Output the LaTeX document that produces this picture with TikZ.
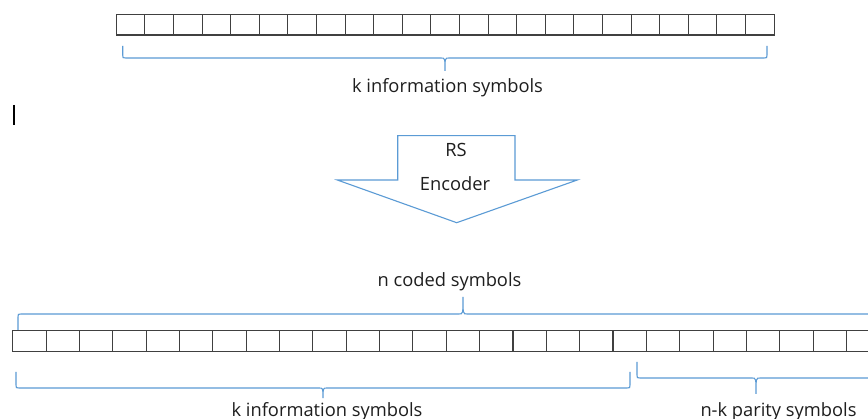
\documentclass[tikz,border=0pt]{standalone}
\usepackage{fontspec}
\setmainfont{Open Sans}
\usetikzlibrary{calc}

\definecolor{braceblue}{RGB}{91,155,213}
\definecolor{cellgray}{RGB}{64,64,64}
\definecolor{textgray}{RGB}{30,30,30}

% Curly brace: x-left, x-right, x-tip, y-ends, y-line, y-tip
\newcommand\wbrace[6]{%
  \draw[bracestyle] (#1,#4) -- ($(#1,#5)!3pt!(#1,#4)$) .. controls (#1,#5) .. ($(#1,#5)!3pt!(#3,#5)$)
    -- ($(#3,#5)!4pt!(#1,#5)$) .. controls (#3,#5) .. (#3,#6) .. controls (#3,#5) .. ($(#3,#5)!4pt!(#2,#5)$)
    -- ($(#2,#5)!3pt!(#3,#5)$) .. controls (#2,#5) .. ($(#2,#5)!3pt!(#2,#4)$) -- (#2,#4);}

\tikzset{
  cell/.style={draw=cellgray, line width=1.1pt},
  bracestyle/.style={draw=braceblue, line width=1.1pt},
  label/.style={font=\fontsize{18.3}{22}\selectfont, text=textgray, inner sep=0pt, anchor=base},
  arrowshape/.style={draw=braceblue, line width=1.1pt, fill=white}
}

\begin{document}
\begin{tikzpicture}[x=1pt, y=-1pt]
  \useasboundingbox (0,0) rectangle (868,419);
  \fill[white] (0,0) rectangle (868,419);
  \clip (0,0) rectangle (868,419);

  % input word: k symbols
  \foreach \i in {0,...,22}
    \draw[cell] ({116.3+28.6*\i},14.3) rectangle ({116.3+28.6*(\i+1)},35);
  \wbrace{122.7}{767}{445}{46}{58}{71}
  \node[label] (kin) at (447.5,93) {k information symbols};

  % cursor mark
  \draw[line width=1.8pt, black] (14,105) -- (14,125);

  % encoder block arrow
  \draw[arrowshape] (397.7,135.7) -- (515,135.7) -- (515,180) -- (577.3,180)
    -- (456.7,222.7) -- (337.3,180) -- (397.7,180) -- cycle;
  \node[label] (rs) at (456,157) {RS};
  \node[label] (enc) at (455,191) {Encoder};

  % codeword: n symbols
  \node[label] (ncoded) at (449.5,287) {n coded symbols};
  \wbrace{18}{908}{463}{331}{314}{297}
  \foreach \i in {0,...,25}
    \draw[cell] ({12.7+33.35*\i},330.7) rectangle ({12.7+33.35*(\i+1)},351.7);
  \wbrace{16}{630}{323}{372}{388}{398}
  \wbrace{637}{875}{756}{362}{378}{394}
  \node[label] (kout) at (327,417) {k information symbols};
  \node[label] (nk) at (778.5,417) {n-k parity symbols};
\end{tikzpicture}
\end{document}
